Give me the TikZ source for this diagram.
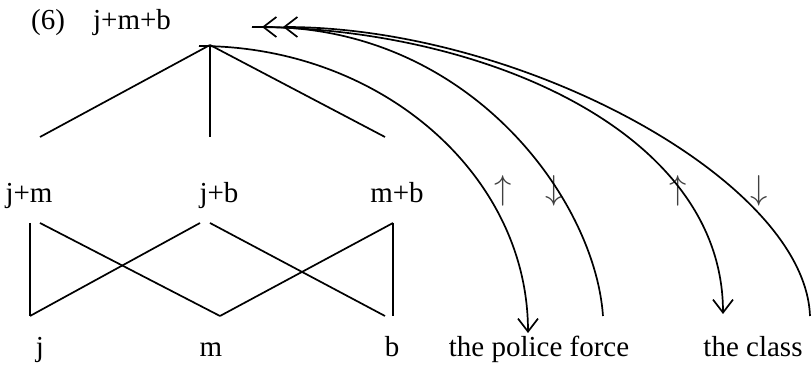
\documentclass[tikz,border=0pt]{standalone}
\usepackage{fontspec}
\setmainfont{Liberation Serif}
\usetikzlibrary{arrows.meta, positioning}

\begin{document}
\begin{tikzpicture}[x=0.5pt, y=-0.5pt,
        lbl/.style={anchor=base, inner sep=0pt, font=\fontsize{14.5}{17}\selectfont},
        dir/.style={inner sep=0pt, text=black!75, font=\fontsize{19}{22}\selectfont},
        ln/.style={line width=0.85pt},
        arc/.style={line width=0.85pt, -{Straight Barb[length=6.5pt, width=10pt, line width=0.85pt]}}
    ]
        \useasboundingbox (0,0) rectangle (811,374);
        \node[lbl] (num)  at (48,30)   {(6)};
        \node[lbl] (jmb)  at (132,30)  {j+m+b};
        \node[lbl] (jm)   at (29,203)  {j+m};
        \node[lbl] (jb)   at (219,203) {j+b};
        \node[lbl] (mb)   at (397,203) {m+b};
        \node[lbl] (j)    at (40,357)  {j};
        \node[lbl] (m)    at (211,357) {m};
        \node[lbl] (b)    at (392,357) {b};
        \node[lbl] (pf)   at (539,357) {the police force};
        \node[lbl] (cl)   at (753,357) {the class};
        \node[dir] (up1)  at (503,191) {$\uparrow$};
        \node[dir] (dn1)  at (554,191) {$\downarrow$};
        \node[dir] (up2)  at (678,191) {$\uparrow$};
        \node[dir] (dn2)  at (759,191) {$\downarrow$};
        \coordinate (top) at (210,45);
        \coordinate (tl) at (40,137);
        \coordinate (tm) at (210,137);
        \coordinate (tr) at (385,137);
        \draw[ln] (top) -- (tl); \draw[ln] (top) -- (tm); \draw[ln] (top) -- (tr);
        \coordinate (jmL) at (30,223);  \coordinate (jmR) at (40,223);
        \coordinate (jbL) at (200,223); \coordinate (jbR) at (210,223);
        \coordinate (mbT) at (393,223);
        \coordinate (jT) at (30,316);   \coordinate (mT) at (220,316);
        \coordinate (bL) at (385,316);  \coordinate (bR) at (393,316);
        \draw[ln] (jmL) -- (jT); \draw[ln] (jmR) -- (mT);
        \draw[ln] (jbL) -- (jT); \draw[ln] (jbR) -- (bL);
        \draw[ln] (mT) -- (mbT); \draw[ln] (mbT) -- (bR);
        \coordinate (s1) at (199,46);  \coordinate (e1) at (528,333);
        \coordinate (s2) at (603,316); \coordinate (e2) at (262,27);
        \coordinate (s3) at (252,27);  \coordinate (e3) at (723,314);
        \coordinate (s4) at (810,316); \coordinate (e4) at (283,27);
        \draw[arc] (s1) .. controls (381,46) and (528,175) .. (e1);
        \draw[arc] (s2) .. controls (595,200) and (470,27) .. (e2);
        \draw[arc] (s3) .. controls (480,27) and (723,130) .. (e3);
        \draw[arc] (s4) .. controls (805,180) and (520,27) .. (e4);
    \end{tikzpicture}
\end{document}
